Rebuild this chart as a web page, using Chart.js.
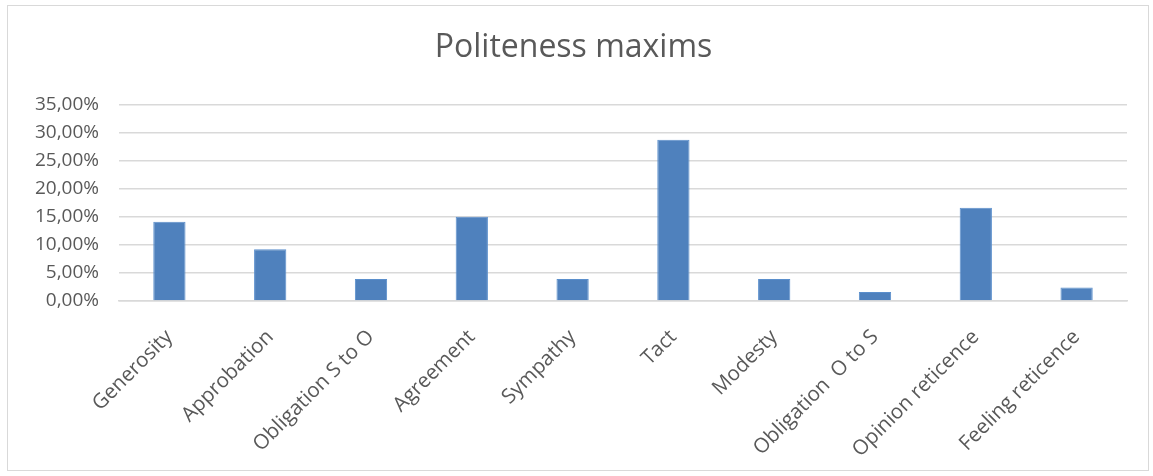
<!DOCTYPE html>
<html>
<head>
<meta charset="utf-8">
<script src="https://cdn.jsdelivr.net/npm/chart.js@4/dist/chart.umd.min.js"></script>
<style>
  html, body { margin: 0; padding: 0; background: #fff; }
  #wrap { position: relative; width: 1153px; height: 476px; }
  #frame { position: absolute; left: 7px; top: 5px; width: 1142px; height: 466px; border: 1px solid #d9d9d9; box-sizing: border-box; }
  canvas { position: absolute; left: 0; top: 0; }
</style>
</head>
<body>
<div id="wrap">
  <div id="frame"></div>
  <canvas id="chart1" width="1153" height="476"></canvas>
</div>
<script>
const categories = [
  'Generosity',
  'Approbation',
  'Obligation S to O',
  'Agreement',
  'Sympathy',
  'Tact',
  'Modesty',
  'Obligation  O to S',
  'Opinion reticence',
  'Feeling reticence',
];
const shares = [14.1, 9.2, 3.9, 15.0, 3.9, 28.7, 3.9, 1.6, 16.6, 2.4];
const yTicks = [0, 5, 10, 15, 20, 25, 30, 35];

const textColor = '#595959';
const fontFamily = '"Open Sans", "Liberation Sans", sans-serif';

const ctx = document.getElementById('chart1').getContext('2d');
const chart1 = new Chart(ctx, {
  type: 'bar',
  data: {
    labels: categories,
    datasets: [{
      data: shares,
      backgroundColor: '#4f81bd',
      borderColor: '#5b8fcc',
      borderWidth: 1,
      categoryPercentage: 1,
      barPercentage: 0.32,
    }],
  },
  options: {
    responsive: false,
    animation: false,
    layout: { padding: { left: 20, right: 26, top: 0, bottom: 0 } },
    plugins: {
      legend: { display: false },
      tooltip: { enabled: false },
      title: {
        display: true,
        text: 'Politeness maxims',
        color: textColor,
        font: { family: fontFamily, size: 32, weight: 'normal', lineHeight: 1.2 },
        padding: { top: 29, bottom: 37 },
      },
    },
    scales: {
      y: {
        min: 0,
        max: 35,
        afterBuildTicks(axis) {
          axis.ticks = yTicks.map(v => ({ value: v }));
        },
        afterFit(axis) {
          axis.width = 99;
        },
        ticks: {
          color: textColor,
          padding: 20,
          font: { family: fontFamily, size: 19 },
          callback: v => v.toFixed(2).replace('.', ',') + '%',
        },
        grid: { color: '#d9d9d9', lineWidth: 1.5, drawTicks: false },
        border: { display: false },
      },
      x: {
        afterFit(axis) {
          axis.height = 175;
        },
        ticks: {
          color: textColor,
          minRotation: 45,
          maxRotation: 45,
          padding: 24,
          font: { family: fontFamily, size: 20.5 },
        },
        grid: { display: false, drawTicks: false },
        border: { display: true, color: '#d9d9d9', width: 1.5 },
      },
    },
  },
});
</script>
</body>
</html>
